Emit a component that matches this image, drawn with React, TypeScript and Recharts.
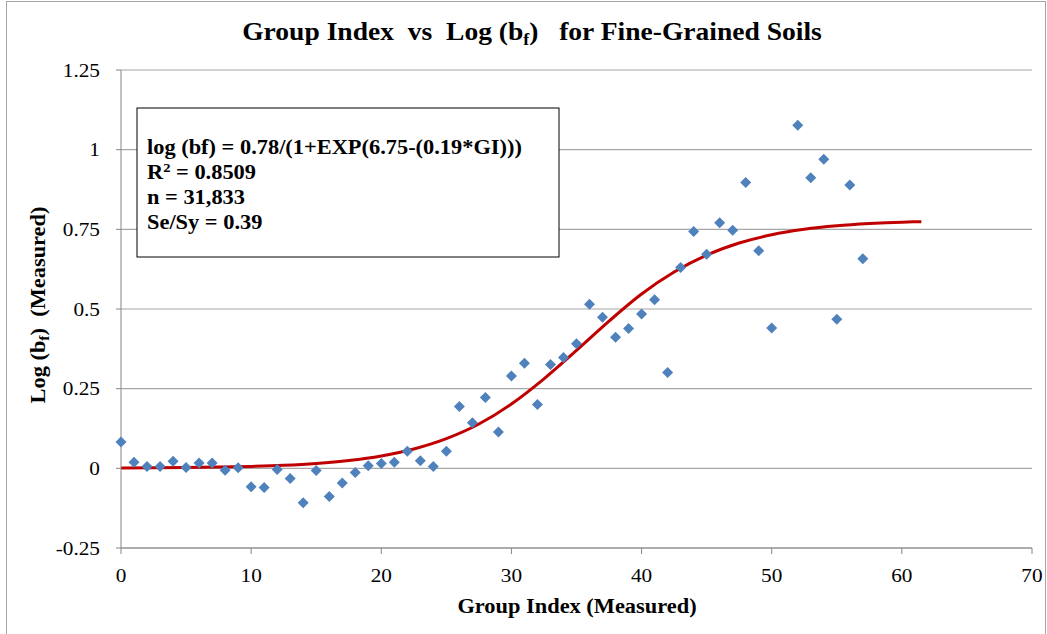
import React from 'react';
import {
  ComposedChart, Scatter, Line, XAxis, YAxis, CartesianGrid,
} from 'recharts';

// measured points (GI, log bf)
const measuredGI = [
  0, 1, 2, 3, 4, 5, 6, 7, 8, 9, 10, 11, 12, 13, 14, 15, 16, 17, 18, 19, 20,
  21, 22, 23, 24, 25, 26, 27, 28, 29, 30, 31, 32, 33, 34, 35, 36, 37, 38, 39,
  40, 41, 42, 43, 44, 45, 46, 47, 48, 49, 50, 52, 53, 54, 55, 56, 57,
];
const measuredLogBf = [
  0.083, 0.019, 0.006, 0.006, 0.022, 0.003, 0.017, 0.017, -0.006, 0.002, -0.058,
  -0.06, -0.004, -0.032, -0.108, -0.007, -0.088, -0.046, -0.013, 0.008, 0.015,
  0.019, 0.054, 0.024, 0.006, 0.054, 0.194, 0.143, 0.222, 0.114, 0.29, 0.33,
  0.2, 0.326, 0.348, 0.391, 0.515, 0.474, 0.411, 0.439, 0.484, 0.529, 0.301,
  0.63, 0.743, 0.672, 0.771, 0.747, 0.897, 0.683, 0.44, 1.077, 0.912, 0.97,
  0.468, 0.889, 0.658,
];

// fitted curve, sampled off the red line
const fitGI = [
  0, 2.5, 5, 7.5, 10, 12.5, 15, 17.5, 20, 22.5, 25, 27.5, 30, 32.5, 35, 37.5,
  40, 42.5, 45, 47.5, 50, 52.5, 55, 57.5, 60, 61.5,
];
const fitLogBf = [
  0.001, 0.0015, 0.0024, 0.0038, 0.0061, 0.0097, 0.0155, 0.0246, 0.0388, 0.0606,
  0.093, 0.139, 0.202, 0.281, 0.37, 0.462, 0.547, 0.616, 0.669, 0.707, 0.733,
  0.75, 0.761, 0.768, 0.7726, 0.774,
];

const xTicks = [0, 10, 20, 30, 40, 50, 60, 70];
const yTicks = [-0.25, 0, 0.25, 0.5, 0.75, 1, 1.25];

const measured = measuredGI.map((x, i) => ({ x, y: measuredLogBf[i] }));
const fit = fitGI.map((x, i) => ({ x, y: fitLogBf[i] }));

const FONT = '"Liberation Serif", "Times New Roman", serif';
const BLUE = '#4f81bd';
const RED = '#c00000';
const SX = 1.12; // the original picture is a bit wider than tall, text looks stretched

// little diamond marker like excel's
const Diamond = (props: any) => {
  const { cx, cy } = props;
  if (cx == null || cy == null) return null;
  const r = 5.5;
  return (
    <path
      d={`M${cx},${cy - r}L${cx + r},${cy}L${cx},${cy + r}L${cx - r},${cy}Z`}
      fill={BLUE}
    />
  );
};

const XTick = (props: any) => {
  const { x, y, payload } = props;
  return (
    <text transform={`translate(${x},${y}) scale(${SX},1)`} textAnchor="middle" dy="0.71em" fontSize={19} fontFamily={FONT} fill="#000">
      {payload.value}
    </text>
  );
};

const YTick = (props: any) => {
  const { x, y, payload } = props;
  return (
    <text transform={`translate(${x},${y}) scale(${SX},1)`} textAnchor="end" dy="0.35em" fontSize={19} fontFamily={FONT} fill="#000">
      {payload.value}
    </text>
  );
};

const pre = { whiteSpace: 'pre' as const };

export default function App() {
  return (
    <div style={{ position: 'absolute', left: 0, top: 0, width: 1047, height: 634, background: '#fff', overflow: 'hidden' }}>
      {/* outer chart-area border */}
      <div style={{ position: 'absolute', left: 6, top: 1, width: 1038, height: 650, border: '1px solid #a6a6a6' }} />

      <ComposedChart
        width={1047}
        height={634}
        margin={{ top: 70, right: 15, bottom: 46, left: 0 }}
        style={{ position: 'absolute', left: 0, top: 0 }}
      >
        <CartesianGrid vertical={false} stroke="#a6a6a6" strokeWidth={1.2} />
        <XAxis
          dataKey="x"
          type="number"
          domain={[0, 70]}
          ticks={xTicks}
          height={40}
          stroke="#868686"
          tickSize={6}
          tickMargin={15}
          tick={<XTick />}
        />
        <YAxis
          dataKey="y"
          type="number"
          domain={[-0.25, 1.25]}
          ticks={yTicks}
          width={121}
          stroke="#868686"
          tickSize={5}
          tickMargin={16}
          tick={<YTick />}
        />
        <Line
          data={fit}
          dataKey="y"
          type="monotone"
          stroke={RED}
          strokeWidth={3}
          dot={false}
          isAnimationActive={false}
        />
        <Scatter data={measured} dataKey="y" shape={Diamond} isAnimationActive={false} />
      </ComposedChart>

      {/* title, axis titles and the equation box */}
      <svg width={1047} height={634} style={{ position: 'absolute', left: 0, top: 0, pointerEvents: 'none', fontFamily: FONT }}>
        <g transform={`translate(532,40) scale(${SX},1)`}>
          <text textAnchor="middle" fontSize={24.6} fontWeight="bold" style={pre}>
            Group Index  vs  Log (b<tspan fontSize={16} dy={5}>f</tspan><tspan dy={-5}>)   for Fine-Grained Soils</tspan>
          </text>
        </g>
        <g transform={`translate(577,613) scale(${SX},1)`}>
          <text textAnchor="middle" fontSize={20} fontWeight="bold">
            Group Index (Measured)
          </text>
        </g>
        <g transform="translate(45,305) rotate(-90)">
          <text transform={`scale(${SX},1)`} textAnchor="middle" fontSize={20} fontWeight="bold" style={pre}>
            Log (b<tspan fontSize={14} dy={4}>f</tspan><tspan dy={-4}>)  (Measured)</tspan>
          </text>
        </g>

        <rect x={137} y={108} width={422} height={149} fill="#fff" stroke="#000" strokeWidth={1} />
        <g transform={`translate(147,0) scale(${SX},1)`} fontSize={20} fontWeight="bold">
          <text x={0} y={154}>log (bf) = 0.78/(1+EXP(6.75-(0.19*GI)))</text>
          <text x={0} y={179}>R<tspan fontSize={13} dy={-7}>2</tspan><tspan dy={7}> = 0.8509</tspan></text>
          <text x={0} y={204}>n = 31,833</text>
          <text x={0} y={229}>Se/Sy = 0.39</text>
        </g>
      </svg>
    </div>
  );
}
